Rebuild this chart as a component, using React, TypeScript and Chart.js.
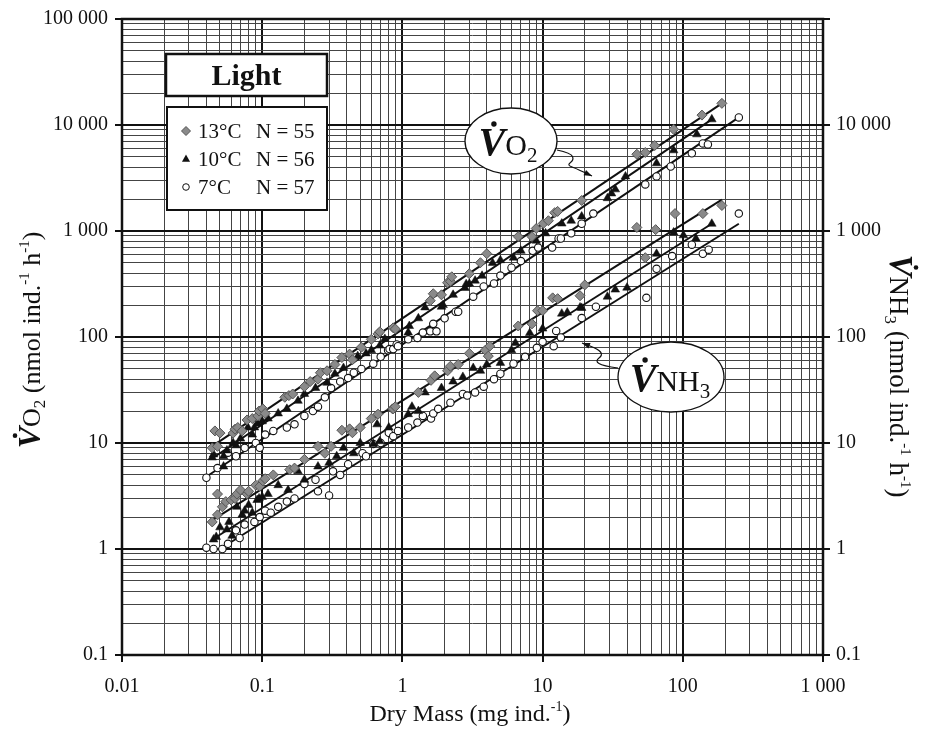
import React, { useEffect, useRef } from 'react';
import { Chart, registerables } from 'chart.js';

Chart.register(...registerables);

// ---------- axis ticks ----------
const xMajorValues = [0.01, 0.1, 1, 10, 100, 1000];
const xMajorLabels = ['0.01', '0.1', '1', '10', '100', '1 000'];
const yMajorValues = [0.1, 1, 10, 100, 1000, 10000, 100000];
const yLeftLabels = ['0.1', '1', '10', '100', '1 000', '10 000', '100 000'];
const yRightLabels = ['0.1', '1', '10', '100', '1 000', '10 000', ''];
const decadeSteps = [1, 2, 3, 4, 5, 6, 7, 8, 9];

// ---------- data: [dry mass mg, rate nmol ind-1 h-1] ----------
const o2_13: [number, number][] = [
  [0.044, 9.0], [0.046, 13], [0.048, 9.3], [0.05, 12.4], [0.062, 12.4], [0.064, 13.5], [0.067, 14], [0.072, 13],
  [0.078, 16.5], [0.085, 17], [0.093, 18], [0.095, 20], [0.101, 21], [0.105, 19], [0.145, 27], [0.155, 28],
  [0.165, 29], [0.2, 34], [0.22, 38], [0.25, 40], [0.26, 46], [0.29, 48], [0.33, 55], [0.37, 64], [0.42, 69],
  [0.44, 61], [0.51, 80], [0.6, 95], [0.67, 107], [0.69, 112], [0.86, 122], [0.89, 119], [1.58, 220], [1.66, 256],
  [1.9, 250], [2.1, 325], [2.2, 335], [2.25, 370], [3.0, 395], [3.6, 502], [4.0, 611], [6.7, 885], [8.4, 885],
  [9, 1055], [10.1, 1175], [11, 1250], [12.2, 1490], [12.8, 1530], [19, 1940], [47, 5300], [54, 5500], [63, 6400],
  [86, 9100], [137, 12400], [190, 16000],
];
const o2_10: [number, number][] = [
  [0.044, 7.3], [0.045, 7.8], [0.053, 7.5], [0.053, 6.0], [0.056, 8.5], [0.062, 10], [0.065, 9.5], [0.07, 11],
  [0.079, 14], [0.085, 12], [0.088, 14], [0.093, 15.3], [0.1, 16], [0.11, 17], [0.13, 19], [0.15, 21], [0.18, 25],
  [0.2, 29], [0.24, 33], [0.29, 37], [0.33, 45], [0.38, 51], [0.48, 66], [0.55, 70], [0.6, 75], [0.69, 83],
  [0.75, 96], [1.1, 110], [1.12, 127], [1.3, 150], [1.45, 190], [1.9, 193], [1.95, 200], [2.3, 250], [2.8, 290],
  [2.85, 315], [3.0, 318], [3.3, 340], [3.7, 378], [4.4, 500], [5.0, 530], [6.2, 560], [7, 650], [9, 810],
  [10.5, 950], [13.7, 1175], [16, 1250], [19, 1370], [29, 2040], [31, 2260], [33, 2470], [39, 3270], [65, 4350],
  [86, 5770], [126, 8160], [161, 11300],
];
const o2_7: [number, number][] = [
  [0.04, 4.7], [0.048, 5.8], [0.057, 8.1], [0.065, 7.5], [0.075, 9], [0.09, 10], [0.096, 9], [0.105, 12],
  [0.12, 13], [0.15, 14], [0.17, 15], [0.2, 18], [0.23, 20], [0.25, 22], [0.28, 27], [0.31, 33], [0.36, 38],
  [0.41, 41], [0.45, 46], [0.51, 50], [0.62, 56], [0.7, 65], [0.79, 75], [0.81, 77], [0.86, 77], [0.91, 85],
  [0.93, 82], [1.1, 95], [1.28, 98], [1.4, 110], [1.58, 113], [1.66, 133], [1.75, 113], [2.0, 150], [2.4, 173],
  [2.5, 173], [3.2, 240], [3.8, 300], [4.5, 320], [5, 380], [6.0, 451], [7, 520], [8.5, 650], [9.3, 697],
  [11.7, 697], [13, 850], [13.5, 850], [16, 950], [19, 1170], [23, 1460], [54, 2750], [65, 3270], [82, 4060],
  [116, 5400], [139, 6700], [151, 6560], [251, 11800],
];
const nh3_13: [number, number][] = [
  [0.044, 1.8], [0.048, 2.1], [0.048, 3.3], [0.052, 2.5], [0.055, 2.8], [0.06, 2.9], [0.064, 3.0], [0.066, 3.3],
  [0.07, 3.6], [0.078, 3.3], [0.08, 3.5], [0.09, 4.0], [0.096, 3.9], [0.101, 4.4], [0.105, 4.6], [0.12, 5],
  [0.157, 5.6], [0.17, 5.8], [0.2, 7], [0.25, 9.3], [0.28, 8], [0.31, 9.3], [0.37, 13.2], [0.42, 13.6],
  [0.44, 12.5], [0.5, 14], [0.6, 17], [0.67, 18.7], [0.85, 21], [0.86, 21], [0.89, 22], [1.3, 30], [1.6, 39],
  [1.7, 43], [2.1, 48], [2.2, 53], [2.5, 55], [3.0, 70], [3.9, 75], [4.1, 66], [4.2, 82], [6.7, 127], [8.4, 133],
  [9.2, 177], [10, 177], [11.8, 234], [12.8, 230], [18.5, 245], [20, 310], [47, 1080], [54, 560], [64, 1030],
  [88, 1460], [139, 1460], [190, 1740],
];
const nh3_10: [number, number][] = [
  [0.045, 1.23], [0.047, 1.3], [0.05, 1.6], [0.056, 1.53], [0.058, 1.8], [0.061, 1.33], [0.066, 2.5], [0.072, 2.1],
  [0.075, 2.3], [0.08, 2.6], [0.085, 2.2], [0.092, 2.9], [0.095, 3.0], [0.1, 3.1], [0.11, 3.3], [0.13, 4],
  [0.153, 3.6], [0.18, 5.4], [0.2, 4.5], [0.25, 6], [0.3, 6.5], [0.34, 7.5], [0.38, 9.0], [0.45, 8], [0.5, 10],
  [0.62, 9.8], [0.66, 15], [0.69, 10.4], [0.8, 14], [1.1, 18.7], [1.17, 22], [1.3, 20], [1.45, 30], [1.9, 33],
  [2.3, 38], [2.7, 42], [3.2, 51], [3.6, 48], [4, 55], [5, 57], [6.0, 75], [6.4, 88], [8.1, 109], [10, 120],
  [13.7, 166], [15, 170], [18.5, 190], [19, 188], [29, 240], [33, 280], [40, 292], [65, 610], [86, 970],
  [101, 910], [124, 848], [161, 1170],
];
const nh3_7: [number, number][] = [
  [0.04, 1.03], [0.045, 1.0], [0.052, 1.0], [0.057, 1.12], [0.065, 1.5], [0.069, 1.27], [0.075, 1.7], [0.088, 1.8],
  [0.096, 2.0], [0.105, 2.3], [0.115, 2.2], [0.13, 2.5], [0.15, 2.8], [0.17, 3.0], [0.2, 4.1], [0.24, 4.5],
  [0.25, 3.5], [0.3, 3.2], [0.32, 5.4], [0.36, 5], [0.41, 6.3], [0.52, 8.0], [0.55, 7.5], [0.62, 9.8], [0.7, 10],
  [0.8, 12.5], [0.86, 11.6], [0.93, 13], [1.1, 14], [1.28, 15.6], [1.4, 18], [1.6, 17], [1.66, 19], [1.8, 21],
  [2.2, 24], [2.7, 29], [2.9, 28], [3.3, 30], [3.8, 34], [4.5, 40], [5, 45], [6.2, 56], [7.5, 65], [9.1, 79],
  [10, 90], [12, 82], [12.5, 114], [13.5, 99], [19, 151], [24, 193], [55, 234], [65, 440], [84, 580], [116, 743],
  [139, 610], [153, 667], [251, 1460],
];

// regression line end points
const fitO2_13: [number, number][] = [[0.045, 9.5], [190, 16000]];
const fitO2_10: [number, number][] = [[0.045, 7.3], [161, 11300]];
const fitO2_7: [number, number][] = [[0.04, 4.8], [251, 11800]];
const fitNH3_13: [number, number][] = [[0.045, 1.9], [190, 1980]];
const fitNH3_10: [number, number][] = [[0.045, 1.25], [161, 1170]];
const fitNH3_7: [number, number][] = [[0.05, 1.0], [251, 1170]];

const legendRows = [
  { temp: '13°C', n: 'N = 55', style: 'diamond' },
  { temp: '10°C', n: 'N = 56', style: 'triangle' },
  { temp: '7°C', n: 'N = 57', style: 'circle' },
];

const SERIF = '"Liberation Serif", "DejaVu Serif", serif';

const isMajor = (v: number) => {
  if (!(v > 0)) return false;
  const l = Math.log10(v);
  return Math.abs(l - Math.round(l)) < 1e-6;
};

const gridTicks = (min: number, max: number) => {
  const out: { value: number }[] = [];
  const e0 = Math.round(Math.log10(min));
  const e1 = Math.round(Math.log10(max));
  for (let e = e0; e < e1; e++) {
    for (const s of decadeSteps) out.push({ value: parseFloat((s * Math.pow(10, e)).toPrecision(6)) });
  }
  out.push({ value: max });
  return out;
};

const labelFor = (values: number[], labels: string[]) => (v: any) => {
  const n = Number(v);
  const i = values.findIndex((m) => Math.abs(m - n) / m < 1e-6);
  return i >= 0 ? labels[i] : '';
};

const toXY = (arr: [number, number][]) => arr.map(([x, y]) => ({ x, y }));

type Run = { text: string; font: string; dy?: number; dot?: { r: number; gap: number; dx: number } };

function runsWidth(ctx: CanvasRenderingContext2D, runs: Run[]) {
  let w = 0;
  for (const r of runs) {
    ctx.font = r.font;
    w += ctx.measureText(r.text).width;
  }
  return w;
}

function drawRuns(ctx: CanvasRenderingContext2D, runs: Run[], x: number, y: number, align: 'left' | 'center') {
  ctx.textAlign = 'left';
  ctx.textBaseline = 'alphabetic';
  let cx = align === 'center' ? x - runsWidth(ctx, runs) / 2 : x;
  for (const r of runs) {
    ctx.font = r.font;
    const m = ctx.measureText(r.text);
    const by = y + (r.dy || 0);
    ctx.fillText(r.text, cx, by);
    if (r.dot) {
      const top = by - m.actualBoundingBoxAscent;
      ctx.beginPath();
      ctx.arc(cx + m.width * 0.5 + r.dot.dx, top - r.dot.gap, r.dot.r, 0, Math.PI * 2);
      ctx.fill();
    }
    cx += m.width;
  }
}

function drawMarker(ctx: CanvasRenderingContext2D, style: string, x: number, y: number) {
  ctx.save();
  ctx.lineWidth = 1;
  ctx.beginPath();
  if (style === 'diamond') {
    const r = 4.5;
    ctx.moveTo(x - r, y); ctx.lineTo(x, y - r); ctx.lineTo(x + r, y); ctx.lineTo(x, y + r); ctx.closePath();
    ctx.fillStyle = '#8a8a8a'; ctx.strokeStyle = '#555';
    ctx.fill(); ctx.stroke();
  } else if (style === 'triangle') {
    const r = 4.5;
    ctx.moveTo(x, y - r); ctx.lineTo(x + r * 0.9, y + r * 0.6); ctx.lineTo(x - r * 0.9, y + r * 0.6); ctx.closePath();
    ctx.fillStyle = '#111'; ctx.fill();
  } else {
    ctx.arc(x, y, 3.3, 0, Math.PI * 2);
    ctx.fillStyle = '#fff'; ctx.strokeStyle = '#111';
    ctx.fill(); ctx.stroke();
  }
  ctx.restore();
}

function wavyArrow(ctx: CanvasRenderingContext2D, pts: [number, number][]) {
  ctx.save();
  ctx.strokeStyle = '#111';
  ctx.fillStyle = '#111';
  ctx.lineWidth = 1.2;
  ctx.beginPath();
  ctx.moveTo(pts[0][0], pts[0][1]);
  for (let i = 1; i < pts.length - 1; i++) {
    const mx = (pts[i][0] + pts[i + 1][0]) / 2;
    const my = (pts[i][1] + pts[i + 1][1]) / 2;
    ctx.quadraticCurveTo(pts[i][0], pts[i][1], mx, my);
  }
  const end = pts[pts.length - 1];
  ctx.lineTo(end[0], end[1]);
  ctx.stroke();
  const prev = pts[pts.length - 2];
  const ang = Math.atan2(end[1] - prev[1], end[0] - prev[0]);
  const L = 8, W = 3;
  ctx.beginPath();
  ctx.moveTo(end[0], end[1]);
  ctx.lineTo(end[0] - L * Math.cos(ang) + W * Math.sin(ang), end[1] - L * Math.sin(ang) - W * Math.cos(ang));
  ctx.lineTo(end[0] - L * Math.cos(ang) - W * Math.sin(ang), end[1] - L * Math.sin(ang) + W * Math.cos(ang));
  ctx.closePath();
  ctx.fill();
  ctx.restore();
}

function ellipse(ctx: CanvasRenderingContext2D, cx: number, cy: number, rx: number, ry: number) {
  ctx.save();
  ctx.beginPath();
  ctx.ellipse(cx, cy, rx, ry, 0, 0, Math.PI * 2);
  ctx.fillStyle = '#fff';
  ctx.fill();
  ctx.strokeStyle = '#111';
  ctx.lineWidth = 1.3;
  ctx.stroke();
  ctx.restore();
}

const decorPlugin = {
  id: 'decor',
  afterDraw(chart: any) {
    const ctx: CanvasRenderingContext2D = chart.ctx;
    const ca = chart.chartArea;
    ctx.save();
    // frame
    ctx.strokeStyle = '#111';
    ctx.lineWidth = 2.5;
    ctx.strokeRect(ca.left, ca.top, ca.right - ca.left, ca.bottom - ca.top);

    // "Light" box
    ctx.fillStyle = '#fff';
    ctx.fillRect(166, 54, 161, 42);
    ctx.strokeStyle = '#111';
    ctx.lineWidth = 2.5;
    ctx.strokeRect(166, 54, 161, 42);
    ctx.fillStyle = '#111';
    ctx.font = `bold 30px ${SERIF}`;
    ctx.textAlign = 'center';
    ctx.textBaseline = 'alphabetic';
    ctx.fillText('Light', 246.5, 85);

    // legend box
    ctx.fillStyle = '#fff';
    ctx.fillRect(167, 107, 160, 103);
    ctx.lineWidth = 2;
    ctx.strokeRect(167, 107, 160, 103);
    legendRows.forEach((row, i) => {
      const y = 131 + i * 28;
      drawMarker(ctx, row.style, 186, y);
      ctx.fillStyle = '#111';
      ctx.font = `21px ${SERIF}`;
      ctx.textAlign = 'left';
      ctx.textBaseline = 'middle';
      ctx.fillText(row.temp, 198, y + 1);
      ctx.fillText(row.n, 256, y + 1);
    });

    // VO2 callout
    ellipse(ctx, 511, 141, 46, 33);
    ctx.fillStyle = '#111';
    drawRuns(ctx, [
      { text: 'V', font: `italic bold 40px ${SERIF}`, dot: { r: 2.7, gap: 5, dx: 2 } },
      { text: 'O', font: `30px ${SERIF}` },
      { text: '2', font: `21px ${SERIF}`, dy: 7 },
    ], 508, 155, 'center');
    wavyArrow(ctx, [[557, 150], [571, 153], [574, 160], [567, 165], [575, 168], [592, 176]]);

    // VNH3 callout
    ellipse(ctx, 671, 377, 53, 35);
    ctx.fillStyle = '#111';
    drawRuns(ctx, [
      { text: 'V', font: `italic bold 40px ${SERIF}`, dot: { r: 2.7, gap: 5, dx: 2 } },
      { text: 'NH', font: `30px ${SERIF}` },
      { text: '3', font: `21px ${SERIF}`, dy: 7 },
    ], 670, 391, 'center');
    wavyArrow(ctx, [[618, 368], [603, 366], [595, 361], [603, 355], [598, 349], [582, 343]]);

    // x title
    ctx.fillStyle = '#111';
    drawRuns(ctx, [
      { text: 'Dry Mass (mg ind.', font: `24px ${SERIF}` },
      { text: '-1', font: `14px ${SERIF}`, dy: -10 },
      { text: ')', font: `24px ${SERIF}` },
    ], 470, 721, 'center');

    // left title
    ctx.save();
    ctx.translate(40, 340);
    ctx.rotate(-Math.PI / 2);
    drawRuns(ctx, [
      { text: 'V', font: `italic bold 32px ${SERIF}`, dot: { r: 2.3, gap: 4, dx: 2 } },
      { text: 'O', font: `26px ${SERIF}` },
      { text: '2', font: `17px ${SERIF}`, dy: 5 },
      { text: ' (nmol ind.', font: `26px ${SERIF}` },
      { text: '-1', font: `15px ${SERIF}`, dy: -11 },
      { text: ' h', font: `26px ${SERIF}` },
      { text: '-1', font: `15px ${SERIF}`, dy: -11 },
      { text: ')', font: `26px ${SERIF}` },
    ], 0, 0, 'center');
    ctx.restore();

    // right title
    ctx.save();
    ctx.translate(890, 376);
    ctx.rotate(Math.PI / 2);
    drawRuns(ctx, [
      { text: 'V', font: `italic bold 33px ${SERIF}`, dot: { r: 2.3, gap: 4, dx: 2 } },
      { text: 'NH', font: `27px ${SERIF}` },
      { text: '3', font: `17px ${SERIF}`, dy: 5 },
      { text: ' (nmol ind.', font: `27px ${SERIF}` },
      { text: '-1', font: `15px ${SERIF}`, dy: -11 },
      { text: ' h', font: `27px ${SERIF}` },
      { text: '-1', font: `15px ${SERIF}`, dy: -11 },
      { text: ')', font: `27px ${SERIF}` },
    ], 0, 0, 'center');
    ctx.restore();

    ctx.restore();
  },
};

const gridColor = (c: any) => (isMajor(c.tick?.value) ? '#111' : '#444');
const gridWidth = (c: any) => (isMajor(c.tick?.value) ? 2 : 1);
const tickColor = (c: any) => (isMajor(c.tick?.value) ? '#111' : 'rgba(0,0,0,0)');

export default function App() {
  const ref = useRef<HTMLCanvasElement>(null);

  useEffect(() => {
    if (!ref.current) return;
    Chart.defaults.font.family = SERIF;
    const pointCommon = { showLine: false };
    const lineCommon = {
      showLine: true,
      pointRadius: 0,
      borderColor: '#111',
      borderWidth: 2,
      backgroundColor: '#111',
    };
    const diamond = { pointStyle: 'rectRot', pointRadius: 5, backgroundColor: '#8a8a8a', borderColor: '#555', borderWidth: 1 };
    const tri = { pointStyle: 'triangle', pointRadius: 5, backgroundColor: '#111', borderColor: '#111', borderWidth: 0.5 };
    const circ = { pointStyle: 'circle', pointRadius: 3.7, backgroundColor: '#fff', borderColor: '#111', borderWidth: 1.1 };

    const chart = new Chart(ref.current, {
      type: 'scatter',
      data: {
        datasets: [
          { ...pointCommon, ...diamond, label: 'VO2 13', data: toXY(o2_13) },
          { ...pointCommon, ...tri, label: 'VO2 10', data: toXY(o2_10) },
          { ...pointCommon, ...circ, label: 'VO2 7', data: toXY(o2_7) },
          { ...pointCommon, ...diamond, label: 'NH3 13', data: toXY(nh3_13) },
          { ...pointCommon, ...tri, label: 'NH3 10', data: toXY(nh3_10) },
          { ...pointCommon, ...circ, label: 'NH3 7', data: toXY(nh3_7) },
          { ...lineCommon, label: 'fit VO2 13', data: toXY(fitO2_13) },
          { ...lineCommon, label: 'fit VO2 10', data: toXY(fitO2_10) },
          { ...lineCommon, label: 'fit VO2 7', data: toXY(fitO2_7) },
          { ...lineCommon, label: 'fit NH3 13', data: toXY(fitNH3_13) },
          { ...lineCommon, label: 'fit NH3 10', data: toXY(fitNH3_10) },
          { ...lineCommon, label: 'fit NH3 7', data: toXY(fitNH3_7) },
        ] as any,
      },
      options: {
        responsive: false,
        animation: false,
        devicePixelRatio: 1,
        layout: { padding: { top: 18, left: 0, right: 0, bottom: 0 } },
        plugins: { legend: { display: false }, tooltip: { enabled: false }, title: { display: false } },
        scales: {
          x: {
            type: 'logarithmic',
            position: 'bottom',
            min: 0.01,
            max: 1000,
            afterBuildTicks: (s: any) => { s.ticks = gridTicks(0.01, 1000); },
            afterFit: (s: any) => { s.height = 75; },
            ticks: {
              autoSkip: false,
              maxRotation: 0,
              padding: 13,
              color: '#111',
              font: { size: 20, family: SERIF },
              callback: labelFor(xMajorValues, xMajorLabels),
            },
            grid: { color: gridColor, lineWidth: gridWidth, tickLength: 7, tickColor: tickColor, tickWidth: 2 },
            border: { display: false },
          },
          y: {
            type: 'logarithmic',
            position: 'left',
            min: 0.1,
            max: 100000,
            afterBuildTicks: (s: any) => { s.ticks = gridTicks(0.1, 100000); },
            afterFit: (s: any) => { s.width = 122; },
            ticks: {
              autoSkip: false,
              padding: 7,
              color: '#111',
              font: { size: 20, family: SERIF },
              callback: labelFor(yMajorValues, yLeftLabels),
            },
            grid: { color: gridColor, lineWidth: gridWidth, tickLength: 7, tickColor: tickColor, tickWidth: 2 },
            border: { display: false },
          },
          y2: {
            type: 'logarithmic',
            position: 'right',
            min: 0.1,
            max: 100000,
            afterBuildTicks: (s: any) => { s.ticks = gridTicks(0.1, 100000); },
            afterFit: (s: any) => { s.width = 111; },
            ticks: {
              autoSkip: false,
              padding: 6,
              color: '#111',
              font: { size: 20, family: SERIF },
              callback: labelFor(yMajorValues, yRightLabels),
            },
            grid: { drawOnChartArea: false, color: gridColor, lineWidth: gridWidth, tickLength: 7, tickColor: tickColor, tickWidth: 2 },
            border: { display: false },
          },
        },
      } as any,
      plugins: [decorPlugin],
    });
    return () => chart.destroy();
  }, []);

  return (
    <div style={{ position: 'absolute', left: 0, top: 0, width: 934, height: 730, background: '#fff' }}>
      <canvas ref={ref} width={934} height={730} style={{ display: 'block' }} />
    </div>
  );
}
